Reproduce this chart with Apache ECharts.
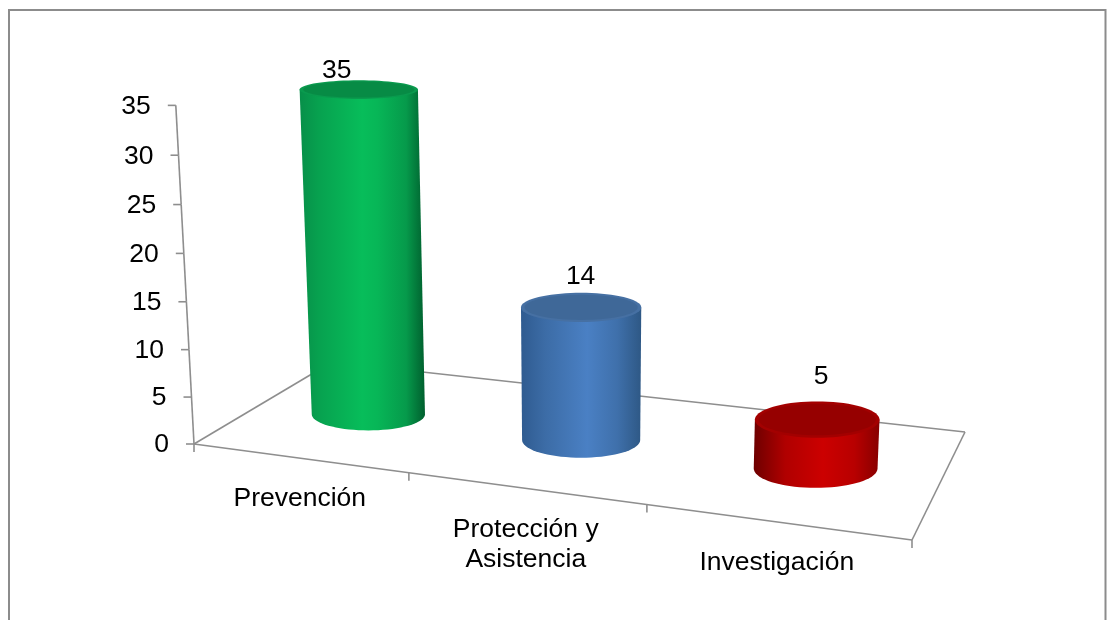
<!DOCTYPE html>
<html>
<head>
<meta charset="utf-8">
<style>html,body{margin:0;padding:0;background:#fff}#c{width:1107px;height:620px}</style>
<script src="https://cdn.jsdelivr.net/npm/echarts@6/dist/echarts.min.js"></script>
</head>
<body>
<div id="c"></div>
<script>
// ---- data ----
var categories = ['Prevención', 'Protección y\nAsistencia', 'Investigación'];
var values = [35, 14, 5];
var yTicks = [0, 5, 10, 15, 20, 25, 30, 35];

// ---- look ----
var bodyColors = [
  [[0,'#078f49'],[0.15,'#07a14f'],[0.5,'#07bd5a'],[0.62,'#07b657'],[0.85,'#069a4b'],[1,'#005f2e']],
  [[0,'#2f5b90'],[0.2,'#3c6ca6'],[0.55,'#4a80c4'],[0.8,'#3f70ab'],[1,'#2e5885']],
  [[0,'#6e0000'],[0.25,'#b00000'],[0.55,'#cc0000'],[0.8,'#b80000'],[1,'#870000']]
];
var topColors = ['#078b45', '#3f6898', '#960000'];
var rimColors = ['#0a9a4e', '#4670a3', '#a30000'];
var LINE = '#8e8e8e', FONT = '"Liberation Sans", Arial, sans-serif', FS = 26.5;
var GRID = {left: 194, top: 117, width: 718, height: 327};

// ---- perspective of the floor and of height ----
var FL = [194,444], FR = [912,540], BR = [965,432], BL = [332,362];
var VX = 582, CX = 1.37e-4, CY = 1.05e-4, FLAT = 0.00135;
var RU = 0.086, RW = 0.19, CYL_DX = 1.5, CYL_DY = 2;
var H = (function () {
  var x0=FL[0],y0=FL[1],x1=FR[0],y1=FR[1],x2=BR[0],y2=BR[1],x3=BL[0],y3=BL[1];
  var dx1=x1-x2,dx2=x3-x2,sx=x0-x1+x2-x3,dy1=y1-y2,dy2=y3-y2,sy=y0-y1+y2-y3;
  var den=dx1*dy2-dx2*dy1, g=(sx*dy2-dx2*sy)/den, h=(dx1*sy-sx*dy1)/den;
  var a=x1-x0+g*x1,b=x3-x0+h*x3,d=y1-y0+g*y1,e=y3-y0+h*y3;
  return function (u,w) {
    var q=g*u+h*w+1;
    return [(a*u+b*w+x0)/q,(d*u+e*w+y0)/q];
  };
})();
function uOf(px) { return (px - GRID.left) / GRID.width; }
function lift(p, pc, h) {
  return [VX + (p[0]-VX)/(1-CX*h), pc[1] - h/(1-CY*h) + (p[1]-pc[1])*(1-FLAT*h)];
}
function lineEl(a,b,w) {
  return {type:'line', shape:{x1:a[0],y1:a[1],x2:b[0],y2:b[1]}, style:{stroke:LINE,lineWidth:w||1.6}, silent:true};
}
function textEl(str,x,y,align,vAlign) {
  return {type:'text', x:x, y:y, style:{text:str,fill:'#000',font:FS+'px '+FONT,align:align,verticalAlign:vAlign,lineHeight:30}, silent:true};
}

// floor outline and the category ticks and labels
function renderFloor(params, api) {
  var ch = [
    lineEl(H(0,0),H(1,0)), lineEl(H(1,0),H(1,1)), lineEl(H(1,1),H(0,1)), lineEl(H(0,1),H(0,0))
  ];
  var n = categories.length, cellW = api.size([1,0])[0] / GRID.width;
  for (var i = 0; i <= n; i++) {
    var p = H(i*cellW, 0);
    ch.push(lineEl(p,[p[0],p[1]+8]));
  }
  return {type:'group', children:ch};
}
function renderCatLabel(params, api) {
  var i = api.value(0), u = uOf(api.coord([i,0])[0]), p = H(u,0);
  return textEl(categories[i], p[0]+1, p[1]+26, 'center', 'top');
}
// slanted value axis
function renderYTick(params, api) {
  var v = api.value(1), i = params.dataIndex;
  var y0 = api.coord([0,0])[1], h = y0 - api.coord([0,v])[1];
  var pt = lift(FL, FL, h), ch = [
    lineEl([pt[0]-8,pt[1]],pt),
    textEl(String(v), pt[0]-25, pt[1]+1, 'right', 'middle')
  ];
  if (i < yTicks.length-1) {
    var h2 = y0 - api.coord([0,yTicks[i+1]])[1];
    ch.push(lineEl(pt, lift(FL,FL,h2)));
  }
  return {type:'group', children:ch};
}
// cylinders
var labelShift = [[-22,-10],[-0.5,-16],[4,-25]];
function renderCyl(params, api) {
  var i = api.value(0), v = api.value(1);
  var base = api.coord([i,0]), top = api.coord([i,v]);
  var u0 = uOf(base[0]), w0 = 0.5, pc = H(u0,w0);
  pc = [pc[0]+CYL_DX, pc[1]+CYL_DY];
  var h = (base[1]-top[1]) * (0.94 + 0.12*u0);
  var rx = 32 + 0.47*(H(u0+RU,w0)[0]-H(u0-RU,w0)[0])/2, ry = Math.abs(H(u0,w0-RW)[1]-H(u0,w0+RW)[1])/2;
  var N = 72, bot = [], tp = [], inner = [], k;
  for (k = 0; k < N; k++) {
    var c = Math.cos(k/N*2*Math.PI), s = Math.sin(k/N*2*Math.PI);
    var p = [pc[0]+rx*c, pc[1]+ry*s];
    bot.push(lift(p,pc,0)); tp.push(lift(p,pc,h));
    inner.push(lift([pc[0]+rx*c*0.94, pc[1]+ry*s*0.86],pc,h));
  }
  // right rim (angle 0) round the near side to the left rim (half way round)
  var body = bot.slice(0, N/2+1);
  body.push(tp[N/2]); body.push(tp[0]);
  var topY = Math.min.apply(null, tp.map(function(q){return q[1];}));
  var cx = (tp[N/2][0]+tp[0][0])/2;
  return {type:'group', children:[
    {type:'polygon', shape:{points:body}, silent:true, style:{fill:{type:'linear',x:0,y:0,x2:1,y2:0,
      colorStops:bodyColors[i].map(function(s){return {offset:s[0],color:s[1]};})}}},
    {type:'polygon', shape:{points:tp}, silent:true, style:{fill:rimColors[i]}},
    {type:'polygon', shape:{points:inner}, silent:true, style:{fill:topColors[i]}},
    textEl(String(v), cx+labelShift[i][0], topY+labelShift[i][1], 'center', 'middle')
  ]};
}

var chart = echarts.init(document.getElementById('c'));
chart.setOption({
  animation: false,
  backgroundColor: '#fff',
  graphic: [{type:'rect', silent:true, z:0, shape:{x:9,y:10,width:1096.5,height:640}, style:{fill:'none',stroke:'#8c8c8c',lineWidth:2}}],
  grid: GRID,
  xAxis: {type:'category', data:categories, show:false},
  yAxis: {type:'value', min:0, max:35, interval:5, show:false},
  series: [
    {type:'custom', name:'floor', z:1, data:[[0,0]], renderItem:renderFloor},
    {type:'custom', name:'axis', z:1, data:yTicks.map(function(v){return [0,v];}), renderItem:renderYTick},
    {type:'custom', name:'categories', z:1, data:categories.map(function(c,i){return [i,0];}), renderItem:renderCatLabel},
    {type:'custom', name:'values', z:3, data:values.map(function(v,i){return [i,v];}), renderItem:renderCyl}
  ]
});
</script>
</body>
</html>
